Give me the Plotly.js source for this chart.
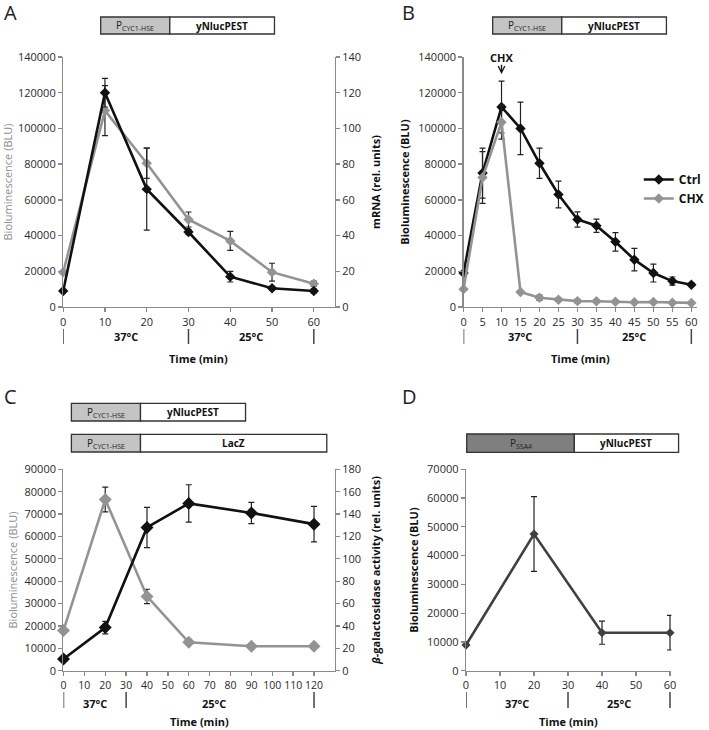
<!DOCTYPE html>
<html>
<head>
<meta charset="utf-8">
<script src="https://cdn.plot.ly/plotly-3.0.1.min.js"></script>
<style>html,body{margin:0;padding:0;background:#fff;}#chart{width:709px;height:730px;}</style>
</head>
<body>
<div id="chart"></div>
<script>
// ---------------- DATA ----------------
// Panel A
const timeA = [0, 10, 20, 30, 40, 50, 60];
const biolumA = [19500, 110000, 80500, 49000, 37000, 19500, 13000];
const biolumAErr = [0, 14000, 8500, 4200, 5300, 5000, 1500];
const mrnaA = [9, 120, 66, 42, 17, 10.5, 9];
const mrnaAErr = [0, 8, 23, 1.5, 3, 1, 1.2];
// Panel B
const timeB = [0, 5, 10, 15, 20, 25, 30, 35, 40, 45, 50, 55, 60];
const ctrlB = [19000, 75000, 112000, 100000, 80500, 63000, 49000, 45500, 36500, 26500, 19000, 14500, 12500];
const ctrlBErr = [0, 14000, 14500, 14700, 8500, 7500, 4300, 3700, 5200, 6300, 5000, 2300, 1000];
const chxB = [10000, 72500, 103500, 8400, 5200, 4100, 3300, 3200, 2900, 2700, 2800, 2400, 2300];
const chxBErr = [0, 14500, 9500, 800, 1500, 1000, 1000, 800, 600, 500, 500, 400, 400];
const seriesNamesB = ['Ctrl', 'CHX'];
// Panel C
const timeC = [0, 20, 40, 60, 90, 120];
const biolumC = [18000, 76500, 33200, 12700, 10900, 10900];
const biolumCErr = [0, 5500, 3200, 800, 0, 0];
const galC = [10.5, 38.5, 128, 149.5, 141, 131];
const galCErr = [0, 5.5, 18, 16.7, 9.5, 15.8];
// Panel D
const timeD = [0, 20, 40, 60];
const biolumD = [8900, 47500, 13200, 13200];
const biolumDErr = [0, 13000, 4000, 6000];
// Temperature phases
const phaseMarksAB = [0, 30, 60];
const phaseMarksC = [0, 30, 120];
const phaseMarksD = [0, 30, 60];
const phaseLabels = ['37°C', '25°C'];
const phaseLabelPosAB = [15, 45];
const phaseLabelPosC = [15, 72];
const phaseLabelPosD = [15, 45];

// ---------------- STYLE ----------------
const FONT = 'Open Sans, sans-serif';
const W = 709, H = 730;
const px = v => v / W;
const py = v => 1 - v / H;
const BLACK = '#111111', GRAY = '#939393', DARK = '#404040';
const AX = '#8a8a8a';

function axis(extra) {
  return Object.assign({
    showline: true, linecolor: AX, linewidth: 1.3,
    ticks: 'outside', ticklen: 4, tickcolor: AX, tickwidth: 1.3,
    showgrid: false, zeroline: false, fixedrange: true,
    tickformat: 'd', separatethousands: false,
    tickfont: {family: FONT, size: 11, color: '#2a2a2a'}
  }, extra);
}
function errs(arr) {
  return {type: 'data', array: arr, visible: true, color: '#222', thickness: 1.2, width: 3};
}
function series(x, y, err, xa, ya, color, size, name, showlegend) {
  return {
    type: 'scatter', mode: 'lines+markers', x: x, y: y, xaxis: xa, yaxis: ya,
    name: name || '', showlegend: !!showlegend,
    line: {color: color, width: 2.6},
    marker: {symbol: 'diamond', size: size, color: color},
    error_y: errs(err), cliponaxis: false
  };
}

const traces = [
  series(timeA, biolumA, biolumAErr, 'x', 'y', GRAY, 8),
  series(timeA, mrnaA, mrnaAErr, 'x', 'y2', BLACK, 8),
  series(timeB, ctrlB, ctrlBErr, 'x2', 'y3', BLACK, 8, seriesNamesB[0], true),
  series(timeB, chxB, chxBErr, 'x2', 'y3', GRAY, 8, seriesNamesB[1], true),
  series(timeC, biolumC, biolumCErr, 'x3', 'y4', GRAY, 10),
  series(timeC, galC, galCErr, 'x3', 'y5', BLACK, 10),
  series(timeD, biolumD, biolumDErr, 'x4', 'y6', DARK, 7)
];

const titleBold = (t, c) => ({text: '<b>' + t + '</b>', font: {family: FONT, size: 11, color: c || '#111'}});
const titlePlain = (t, c) => ({text: t, font: {family: FONT, size: 11, color: c || '#111'}});

const layout = {
  width: W, height: H, margin: {l: 0, r: 0, t: 0, b: 0},
  paper_bgcolor: '#fff', plot_bgcolor: 'rgba(0,0,0,0)',
  font: {family: FONT, color: '#222'},
  showlegend: true,
  legend: {x: px(647), y: py(165), xanchor: 'left', yanchor: 'top', bgcolor: 'rgba(0,0,0,0)',
           font: {family: FONT, size: 12, color: '#111', weight: 'bold'}, itemwidth: 30},
  // Panel A
  xaxis: axis({domain: [px(64), px(339)], anchor: 'y', range: [0, 65], dtick: 10, tick0: 0}),
  yaxis: axis({domain: [py(307), py(57)], anchor: 'x', range: [0, 140000], dtick: 20000,
               title: Object.assign(titlePlain('Bioluminescence (BLU)', '#8c8c8c'), {standoff: 4})}),
  yaxis2: axis({overlaying: 'y', side: 'right', anchor: 'x', range: [0, 140], dtick: 20,
               title: Object.assign(titleBold('mRNA (rel. units)'), {standoff: 12})}),
  // Panel B
  xaxis2: axis({domain: [px(469.5), px(706)], anchor: 'y3', range: [0, 61.5], dtick: 5, tick0: 0}),
  yaxis3: axis({domain: [py(307), py(57)], anchor: 'x2', range: [0, 140000], dtick: 20000,
               title: Object.assign(titleBold('Bioluminescence (BLU)'), {standoff: 6})}),
  // Panel C
  xaxis3: axis({domain: [px(64.3), px(339)], anchor: 'y4', range: [0, 129.9], dtick: 10, tick0: 0,
               tickfont: {family: FONT, size: 10.5, color: '#2a2a2a'}}),
  yaxis4: axis({domain: [py(670.7), py(469.3)], anchor: 'x3', range: [0, 90000], dtick: 10000,
               title: Object.assign(titlePlain('Bioluminescence (BLU)', '#8c8c8c'), {standoff: 4})}),
  yaxis5: axis({overlaying: 'y4', side: 'right', anchor: 'x3', range: [0, 180], dtick: 20,
               title: Object.assign(titleBold('<i>β</i>-galactosidase activity (rel. units)'), {standoff: 12})}),
  // Panel D
  xaxis4: axis({domain: [px(472), px(680)], anchor: 'y6', range: [0, 60.4], dtick: 10, tick0: 0}),
  yaxis6: axis({domain: [py(670.7), py(469.3)], anchor: 'x4', range: [0, 70000], dtick: 10000,
               title: Object.assign(titleBold('Bioluminescence (BLU)'), {standoff: 6})}),
  shapes: [],
  annotations: []
};

// x-axis titles (Time)
[['x domain', 358], ['x2 domain', 358], ['x3 domain', 721], ['x4 domain', 721]].forEach(([ref, y]) => {
  layout.annotations.push({text: '<b>Time (min)</b>', xref: ref, yref: 'paper', x: 0.5, y: py(y),
    xanchor: 'center', yanchor: 'middle', showarrow: false, font: {family: FONT, size: 11, color: '#111'}});
});

// Panel letters
[['A', 11, 12], ['B', 414, 12], ['C', 11, 396], ['D', 415, 396]].forEach(([t, x, y]) => {
  layout.annotations.push({text: t, xref: 'paper', yref: 'paper', x: px(x), y: py(y),
    xanchor: 'center', yanchor: 'middle', showarrow: false, font: {family: FONT, size: 20, color: '#222'}});
});

// Gene construct boxes
function geneBox(x0, xm, x1, y0, y1, fill, left, right) {
  layout.shapes.push({type: 'rect', xref: 'paper', yref: 'paper', x0: px(x0), x1: px(xm), y0: py(y1), y1: py(y0),
    fillcolor: fill, line: {color: '#333', width: 1.3}});
  layout.shapes.push({type: 'rect', xref: 'paper', yref: 'paper', x0: px(xm), x1: px(x1), y0: py(y1), y1: py(y0),
    fillcolor: '#fff', line: {color: '#333', width: 1.3}});
  layout.annotations.push({text: left, xref: 'paper', yref: 'paper', x: px((x0 + xm) / 2), y: py((y0 + y1) / 2),
    xanchor: 'center', yanchor: 'middle', showarrow: false, font: {family: FONT, size: 10, color: '#222'}});
  layout.annotations.push({text: '<b>' + right + '</b>', xref: 'paper', yref: 'paper', x: px((xm + x1) / 2), y: py((y0 + y1) / 2),
    xanchor: 'center', yanchor: 'middle', showarrow: false, font: {family: FONT, size: 10, color: '#111'}});
}
const PCYC = 'P<sub>CYC1-HSE</sub>';
geneBox(102, 172, 278, 17, 34, '#c4c4c4', PCYC, 'yNlucPEST');
geneBox(499, 569, 675, 17, 34, '#c4c4c4', PCYC, 'yNlucPEST');
geneBox(72.3, 142.3, 248.7, 403.3, 421, '#c4c4c4', PCYC, 'yNlucPEST');
geneBox(72.3, 142.3, 331, 434.3, 452, '#c4c4c4', PCYC, 'LacZ');
geneBox(472.7, 581.7, 687.3, 434, 452.3, '#7f7f7f', 'P<sub>SSA4</sub>', 'yNlucPEST');

// Temperature phase marks & labels
function phases(xref, marks, labelPos, yTop, yBot, yLab) {
  marks.forEach(m => layout.shapes.push({type: 'line', xref: xref, yref: 'paper', x0: m, x1: m,
    y0: py(yBot), y1: py(yTop), line: {color: '#444', width: 1.5}}));
  labelPos.forEach((p, i) => layout.annotations.push({text: '<b>' + phaseLabels[i] + '</b>', xref: xref, yref: 'paper',
    x: p, y: py(yLab), xanchor: 'center', yanchor: 'middle', showarrow: false,
    font: {family: FONT, size: 11, color: '#111'}}));
}
phases('x', phaseMarksAB, phaseLabelPosAB, 329, 344, 337);
phases('x2', phaseMarksAB, phaseLabelPosAB, 329, 344, 337);
phases('x3', phaseMarksC, phaseLabelPosC, 692, 708, 703);
phases('x4', phaseMarksD, phaseLabelPosD, 692, 708, 703);

// CHX annotation in B
layout.annotations.push({text: '<b>CHX</b>', xref: 'x2', yref: 'y3', x: 10, y: 139500, xanchor: 'center', yanchor: 'middle',
  showarrow: false, font: {family: FONT, size: 11, color: '#111'}});
layout.annotations.push({text: '', xref: 'x2', yref: 'y3', x: 10, y: 130500, axref: 'x2', ayref: 'y3', ax: 10, ay: 136500,
  showarrow: true, arrowhead: 5, arrowsize: 1, arrowwidth: 1.3, arrowcolor: '#111'});

Plotly.newPlot('chart', traces, layout, {displayModeBar: false, staticPlot: true});
</script>
</body>
</html>
